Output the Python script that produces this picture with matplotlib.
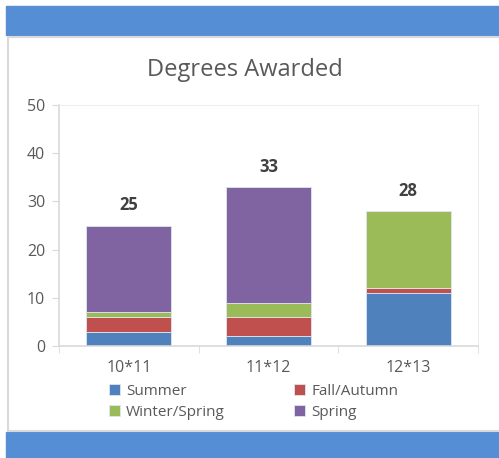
import matplotlib.pyplot as plt
from matplotlib.patches import Rectangle

plt.rcParams['font.family'] = ['Open Sans', 'DejaVu Sans']

# Data
years = ["10*11", "11*12", "12*13"]
summer = [3, 2, 11]
fall = [3, 4, 1]
winter = [1, 3, 16]
spring = [18, 24, 0]
series_names = ["Summer", "Fall/Autumn", "Winter/Spring", "Spring"]
colors = ["#4F81BD", "#C0504D", "#9BBB59", "#8064A2"]

W, H = 499, 458
fig = plt.figure(figsize=(W / 100, H / 100), dpi=100)

# Page decoration: blue bands and the white panel
band = "#558ED5"
fig.patches.append(Rectangle((6 / W, 1 - 35 / H), 1, 29 / H, transform=fig.transFigure,
                             color=band, zorder=-2))
fig.patches.append(Rectangle((6 / W, 0), 1, 26 / H, transform=fig.transFigure,
                             color=band, zorder=-2))
fig.patches.append(Rectangle((8 / W, 1 - 431 / H), 1, 394 / H, transform=fig.transFigure,
                             facecolor="white", edgecolor="#d9d9d9", linewidth=1.5, zorder=-1))

ax = fig.add_axes([59 / W, 1 - 346 / H, 419 / W, 241 / H])
ax.set_zorder(2)
ax.patch.set_alpha(0)

x = list(range(len(years)))
bottom = [0] * len(years)
handles = []
for vals, name, c in zip([summer, fall, winter, spring], series_names, colors):
    b = ax.bar(x, vals, width=0.61, bottom=bottom, color=c, label=name,
               edgecolor="#dfe6f0", linewidth=0.6)
    handles.append(b)
    bottom = [bb + v for bb, v in zip(bottom, vals)]

totals = bottom
for xi, t in zip(x, totals):
    ax.annotate(str(t), (xi, t), xytext=(0, 14.5), textcoords="offset points",
                ha="center", va="center", fontsize=12, fontweight="bold", color="#404040")

ax.set_xlim(-0.5, 2.5)
ax.set_ylim(0, 50)
ax.set_yticks(range(0, 51, 10))
ax.set_xticks(x)
ax.set_xticklabels(years)
ax.set_xticks([-0.5, 0.5, 1.5, 2.5], minor=True)
ax.tick_params(axis="x", which="major", length=0, pad=10, labelsize=11.5, labelcolor="#595959")
ax.tick_params(axis="x", which="minor", length=5, color="#d9d9d9")
ax.tick_params(axis="y", length=5, color="#d9d9d9", labelsize=11.5, labelcolor="#595959", pad=5)

for s in ["top", "right"]:
    ax.spines[s].set_color("#eeeeee")
for s in ["left", "bottom"]:
    ax.spines[s].set_color("#d9d9d9")
    ax.spines[s].set_linewidth(1.2)

fig.text(245 / W, 1 - 70 / H, "Degrees Awarded", ha="center", va="center",
         fontsize=17, color="#595959")

order = [0, 2, 1, 3]
fig.legend([handles[i] for i in order], [series_names[i] for i in order], ncol=2,
           loc="upper left", bbox_to_anchor=(101 / W, 1 - 376 / H), frameon=False,
           fontsize=11, labelcolor="#595959", handlelength=0.75, handleheight=0.75,
           handletextpad=0.4, columnspacing=4.5, labelspacing=0.4, borderpad=0)

fig.savefig("out.png", dpi=100)
